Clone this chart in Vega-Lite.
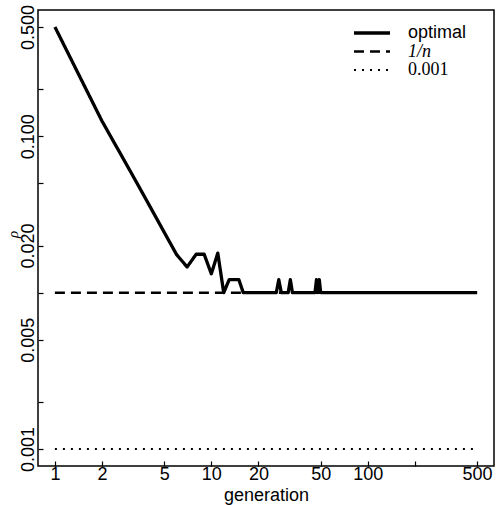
{
  "$schema": "https://vega.github.io/schema/vega-lite/v6.json",
  "width": 456,
  "height": 456,
  "autosize": {"type": "none"},
  "padding": {"left": 38, "top": 10, "right": 3, "bottom": 39},
  "background": "white",
  "config": {
    "view": {"stroke": "black", "strokeWidth": 1.5},
    "font": "Liberation Sans",
    "axis": {"grid": false, "domain": false, "labelColor": "black", "tickColor": "black", "titleColor": "black"}
  },
  "data": {
    "values": [
      {"series": "optimal", "generation": 1, "rho": 0.5},
      {"series": "optimal", "generation": 2, "rho": 0.125},
      {"series": "optimal", "generation": 3, "rho": 0.061},
      {"series": "optimal", "generation": 4, "rho": 0.0364},
      {"series": "optimal", "generation": 5, "rho": 0.0243},
      {"series": "optimal", "generation": 6, "rho": 0.0175},
      {"series": "optimal", "generation": 7, "rho": 0.0146},
      {"series": "optimal", "generation": 8, "rho": 0.0176},
      {"series": "optimal", "generation": 9, "rho": 0.0176},
      {"series": "optimal", "generation": 10, "rho": 0.0132},
      {"series": "optimal", "generation": 11, "rho": 0.0179},
      {"series": "optimal", "generation": 12, "rho": 0.01},
      {"series": "optimal", "generation": 13, "rho": 0.0121},
      {"series": "optimal", "generation": 14, "rho": 0.0121},
      {"series": "optimal", "generation": 15, "rho": 0.0121},
      {"series": "optimal", "generation": 16, "rho": 0.01},
      {"series": "optimal", "generation": 17, "rho": 0.01},
      {"series": "optimal", "generation": 18, "rho": 0.01},
      {"series": "optimal", "generation": 19, "rho": 0.01},
      {"series": "optimal", "generation": 20, "rho": 0.01},
      {"series": "optimal", "generation": 21, "rho": 0.01},
      {"series": "optimal", "generation": 22, "rho": 0.01},
      {"series": "optimal", "generation": 23, "rho": 0.01},
      {"series": "optimal", "generation": 24, "rho": 0.01},
      {"series": "optimal", "generation": 25, "rho": 0.01},
      {"series": "optimal", "generation": 26, "rho": 0.01},
      {"series": "optimal", "generation": 27, "rho": 0.0121},
      {"series": "optimal", "generation": 28, "rho": 0.01},
      {"series": "optimal", "generation": 29, "rho": 0.01},
      {"series": "optimal", "generation": 30, "rho": 0.01},
      {"series": "optimal", "generation": 31, "rho": 0.01},
      {"series": "optimal", "generation": 32, "rho": 0.0121},
      {"series": "optimal", "generation": 33, "rho": 0.01},
      {"series": "optimal", "generation": 34, "rho": 0.01},
      {"series": "optimal", "generation": 35, "rho": 0.01},
      {"series": "optimal", "generation": 36, "rho": 0.01},
      {"series": "optimal", "generation": 37, "rho": 0.01},
      {"series": "optimal", "generation": 38, "rho": 0.01},
      {"series": "optimal", "generation": 39, "rho": 0.01},
      {"series": "optimal", "generation": 40, "rho": 0.01},
      {"series": "optimal", "generation": 41, "rho": 0.01},
      {"series": "optimal", "generation": 42, "rho": 0.01},
      {"series": "optimal", "generation": 43, "rho": 0.01},
      {"series": "optimal", "generation": 44, "rho": 0.01},
      {"series": "optimal", "generation": 45, "rho": 0.01},
      {"series": "optimal", "generation": 46, "rho": 0.01},
      {"series": "optimal", "generation": 47, "rho": 0.0121},
      {"series": "optimal", "generation": 48, "rho": 0.01},
      {"series": "optimal", "generation": 49, "rho": 0.0121},
      {"series": "optimal", "generation": 50, "rho": 0.01},
      {"series": "optimal", "generation": 60, "rho": 0.01},
      {"series": "optimal", "generation": 80, "rho": 0.01},
      {"series": "optimal", "generation": 100, "rho": 0.01},
      {"series": "optimal", "generation": 200, "rho": 0.01},
      {"series": "optimal", "generation": 300, "rho": 0.01},
      {"series": "optimal", "generation": 400, "rho": 0.01},
      {"series": "optimal", "generation": 500, "rho": 0.01},
      {"series": "1/n", "generation": 1, "rho": 0.01},
      {"series": "1/n", "generation": 500, "rho": 0.01},
      {"series": "0.001", "generation": 1, "rho": 0.001},
      {"series": "0.001", "generation": 500, "rho": 0.001}
    ]
  },
  "mark": {"type": "line", "color": "black", "strokeCap": "butt", "strokeJoin": "round"},
  "encoding": {
    "x": {
      "field": "generation",
      "type": "quantitative",
      "scale": {"type": "log", "domain": [0.7798, 641.2], "nice": false, "zero": false},
      "axis": {
        "values": [1, 2, 5, 10, 20, 50, 100, 200, 500],
        "labelExpr": "datum.value == 200 ? '' : datum.label",
        "format": "d",
        "tickSize": -5,
        "tickWidth": 1.2,
        "labelPadding": 4,
        "labelFontSize": 18,
        "labelAngle": 0,
        "labelAlign": "center",
        "labelBaseline": "top",
        "labelFlush": false,
        "labelOverlap": false,
        "title": "generation",
        "titleFontSize": 18,
        "titleFontWeight": "normal",
        "titleX": 228,
        "titleY": 34,
        "titleAlign": "center",
        "titleBaseline": "alphabetic"
      }
    },
    "y": {
      "field": "rho",
      "type": "quantitative",
      "scale": {"type": "log", "domain": [0.0007798, 0.6412], "nice": false, "zero": false},
      "axis": {
        "values": [0.001, 0.002, 0.005, 0.01, 0.02, 0.05, 0.1, 0.2, 0.5],
        "format": ".3f",
        "labelExpr": "indexof(['0.200','0.050','0.010','0.002'], datum.label) >= 0 ? '' : datum.label",
        "tickSize": -5,
        "tickWidth": 1.2,
        "labelPadding": 10,
        "labelFontSize": 18,
        "labelAngle": -90,
        "labelAlign": "center",
        "labelBaseline": "alphabetic",
        "labelFlush": false,
        "labelOverlap": false,
        "title": "ρ",
        "titleFont": "Liberation Serif",
        "titleFontStyle": "italic",
        "titleFontWeight": "normal",
        "titleFontSize": 15,
        "titleAngle": -90,
        "titleX": -26,
        "titleY": 224,
        "titleAlign": "center",
        "titleBaseline": "middle"
      }
    },
    "strokeDash": {
      "field": "series",
      "type": "nominal",
      "scale": {"domain": ["optimal", "1/n", "0.001"], "range": [[1, 0], [10, 6], [2, 6]]},
      "legend": {
        "title": null,
        "orient": "none",
        "legendX": 325,
        "legendY": 14,
        "padding": 0,
        "symbolType": "M-3,0H3",
        "symbolSize": 144,
        "symbolStrokeColor": "black",
        "symbolStrokeWidth": 2.5,
        "labelOffset": 27,
        "labelFontSize": 18,
        "labelColor": "black",
        "rowPadding": 0.5,
        "labelLimit": 200,
        "encode": {
          "symbols": {
            "update": {
              "stroke": {"value": "black"},
              "strokeWidth": {"signal": "datum.value === 'optimal' ? 3.3 : (datum.value === '1/n' ? 2.5 : 2)"},
              "strokeDash": {"signal": "datum.value === 'optimal' ? [1,0] : (datum.value === '1/n' ? [11,14] : [2,9.3])"}
            }
          },
          "labels": {
            "update": {
              "font": {"signal": "datum.value === 'optimal' ? 'Liberation Sans' : 'Liberation Serif'"},
              "fontStyle": {"signal": "datum.value === '1/n' ? 'italic' : 'normal'"}
            }
          }
        }
      }
    },
    "strokeWidth": {
      "condition": [
        {"test": "datum.series === 'optimal'", "value": 3.3},
        {"test": "datum.series === '0.001'", "value": 2}
      ],
      "value": 2.5
    }
  }
}
